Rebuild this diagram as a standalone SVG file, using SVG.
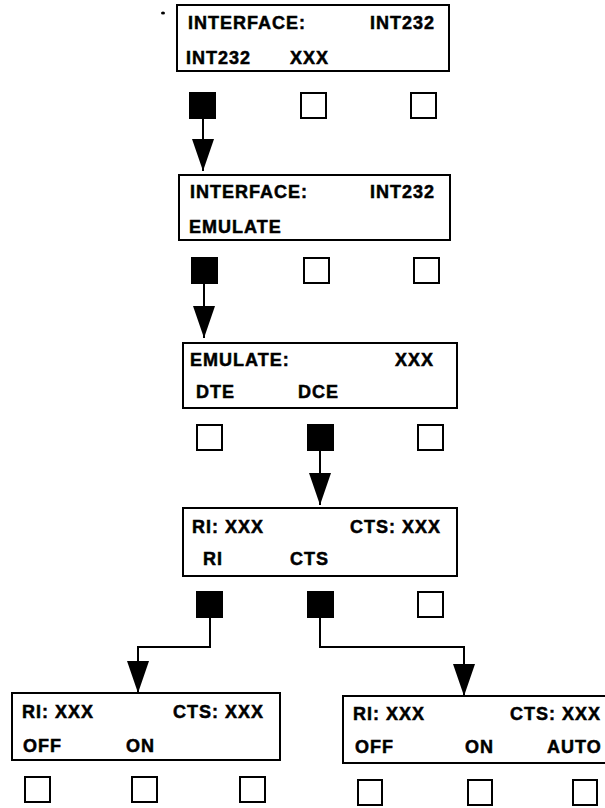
<svg xmlns="http://www.w3.org/2000/svg" width="605" height="808" viewBox="0 0 605 808">
<style>
.box{fill:#fff;stroke:#000;stroke-width:2}
.t{font-family:"Liberation Sans",Arial,sans-serif;font-weight:bold;font-size:18px;letter-spacing:1px;fill:#000;stroke:#000;stroke-width:0.5}
.k{fill:#fff;stroke:#000;stroke-width:2}
.kf{fill:#000;stroke:#000;stroke-width:2}
.c{fill:none;stroke:#000;stroke-width:2}
</style>
<defs>
<marker id="ah" markerUnits="userSpaceOnUse" markerWidth="32" markerHeight="22" refX="32" refY="11" orient="auto">
<path d="M0,0 L32,11 L0,22 Z" fill="#000"/>
</marker>
</defs>
<rect width="605" height="808" fill="#fff"/>
<ellipse cx="163" cy="13" rx="2" ry="1.5" fill="#000"/>

<g id="node1">
<rect class="box" x="177" y="5" width="272" height="66"/>
<text class="t" x="188" y="29">INTERFACE:</text>
<text class="t" x="370" y="29">INT232</text>
<text class="t" x="186" y="64">INT232</text>
<text class="t" x="290" y="64">XXX</text>
<rect class="kf" x="190" y="93" width="25" height="25"/>
<rect class="k" x="301" y="93" width="25" height="25"/>
<rect class="k" x="411" y="93" width="25" height="25"/>
</g>

<g id="node2">
<rect class="box" x="179" y="175" width="271" height="65"/>
<text class="t" x="190" y="198">INTERFACE:</text>
<text class="t" x="370" y="198">INT232</text>
<text class="t" x="189" y="233">EMULATE</text>
<rect class="kf" x="192" y="258" width="25" height="25"/>
<rect class="k" x="304" y="258" width="25" height="25"/>
<rect class="k" x="414" y="258" width="25" height="25"/>
</g>

<g id="node3">
<rect class="box" x="183" y="343" width="274" height="65"/>
<text class="t" x="190" y="366">EMULATE:</text>
<text class="t" x="395" y="366">XXX</text>
<text class="t" x="196" y="398">DTE</text>
<text class="t" x="298" y="398">DCE</text>
<rect class="k" x="197" y="425" width="25" height="25"/>
<rect class="kf" x="308" y="425" width="25" height="25"/>
<rect class="k" x="418" y="425" width="25" height="25"/>
</g>

<g id="node4">
<rect class="box" x="183" y="508" width="274" height="68"/>
<text class="t" x="192" y="533">RI: XXX</text>
<text class="t" x="350" y="533">CTS: XXX</text>
<text class="t" x="203" y="565">RI</text>
<text class="t" x="290" y="565">CTS</text>
<rect class="kf" x="197" y="592" width="25" height="25"/>
<rect class="kf" x="308" y="592" width="25" height="25"/>
<rect class="k" x="418" y="592" width="25" height="25"/>
</g>

<g id="node5">
<rect class="box" x="12" y="693" width="268" height="67"/>
<text class="t" x="22" y="718">RI: XXX</text>
<text class="t" x="173" y="718">CTS: XXX</text>
<text class="t" x="23" y="752">OFF</text>
<text class="t" x="126" y="752">ON</text>
<rect class="k" x="25" y="777" width="25" height="25"/>
<rect class="k" x="132" y="777" width="25" height="25"/>
<rect class="k" x="240" y="777" width="25" height="25"/>
</g>

<g id="node6">
<rect class="box" x="343" y="696" width="270" height="67"/>
<text class="t" x="353" y="720">RI: XXX</text>
<text class="t" x="510" y="720">CTS: XXX</text>
<text class="t" x="355" y="753">OFF</text>
<text class="t" x="465" y="753">ON</text>
<text class="t" x="547" y="753">AUTO</text>
<rect class="k" x="358" y="780" width="24" height="25"/>
<rect class="k" x="468" y="780" width="24" height="25"/>
<rect class="k" x="573" y="780" width="24" height="25"/>
</g>

<g id="connectors">
<path class="c" d="M203,118 V171" marker-end="url(#ah)"/>
<path class="c" d="M204,283 V338" marker-end="url(#ah)"/>
<path class="c" d="M320,450 V505" marker-end="url(#ah)"/>
<path class="c" d="M210,617 V647 H138 V693" marker-end="url(#ah)"/>
<path class="c" d="M320,617 V647 H464 V696" marker-end="url(#ah)"/>
</g>
</svg>
